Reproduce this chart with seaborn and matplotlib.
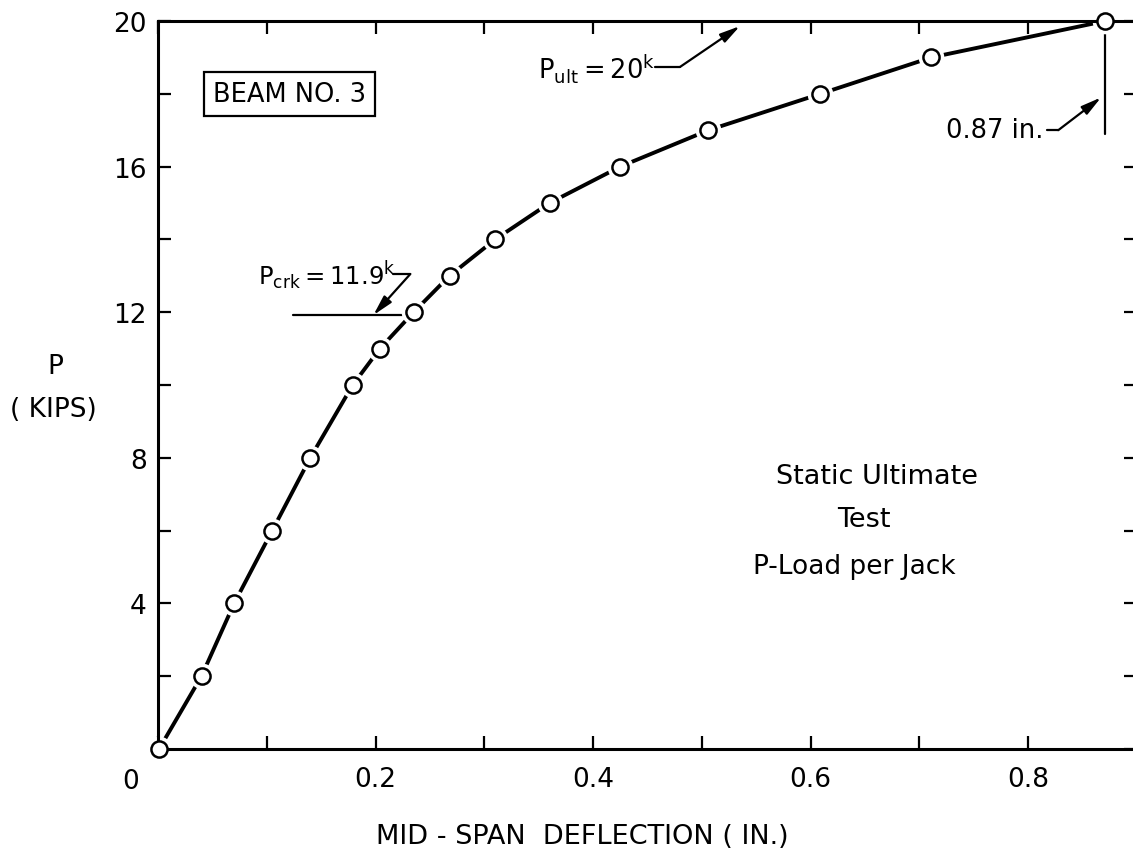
import numpy as np
import pandas as pd
import matplotlib
matplotlib.use("Agg")
import matplotlib.pyplot as plt
import seaborn as sns

# ---- data ----
deflection = [0.001, 0.040, 0.070, 0.105, 0.140, 0.179, 0.204, 0.235, 0.268,
              0.310, 0.360, 0.425, 0.506, 0.609, 0.711, 0.871]
load = [0, 2, 4, 6, 8, 10, 11, 12, 13, 14, 15, 16, 17, 18, 19, 20]

x_ticks = [0.0, 0.1, 0.2, 0.3, 0.4, 0.5, 0.6, 0.7, 0.8]
x_tick_labels = ["", "", "0.2", "", "0.4", "", "0.6", "", "0.8"]
y_ticks = [0, 2, 4, 6, 8, 10, 12, 14, 16, 18, 20]
y_tick_labels = ["", "", "4", "", "8", "", "12", "", "16", "", "20"]

sns.set_theme(style="white")
plt.rcParams["font.family"] = ["DejaVu Sans"]
plt.rcParams["mathtext.default"] = "regular"
plt.rcParams["text.color"] = "black"

fig = plt.figure(figsize=(11.33, 8.62), dpi=100)
ax = fig.add_axes([158 / 1133, 112 / 862, 979 / 1133, 728 / 862])

df = pd.DataFrame({"deflection": deflection, "load": load})
sns.lineplot(data=df, x="deflection", y="load", ax=ax, color="black",
             lw=2.8, sort=False, estimator=None, zorder=2)
# white halo to open a small gap around each marker
sns.scatterplot(data=df, x="deflection", y="load", ax=ax, s=340,
                color="white", linewidth=0, zorder=2.2, clip_on=False)
sns.scatterplot(data=df, x="deflection", y="load", ax=ax, s=135,
                color="white", edgecolor="black", linewidth=1.8,
                zorder=3, clip_on=False)

ax.set_xlim(0, 0.9)
ax.set_ylim(0, 20)
ax.set_xticks(x_ticks)
ax.set_xticklabels(x_tick_labels)
ax.set_yticks(y_ticks)
ax.set_yticklabels(y_tick_labels)
ax.set_xlabel("")
ax.set_ylabel("")
for sp in ax.spines.values():
    sp.set_linewidth(2.2)
    sp.set_color("black")
ax.tick_params(axis="both", which="both", direction="in", length=9.5,
               width=1.6, colors="black", labelsize=19,
               bottom=True, left=True, top=True, right=True,
               labeltop=False, labelright=False)
ax.tick_params(axis="x", pad=12)
ax.tick_params(axis="y", pad=8)

# corner zero and axis titles
fig.text(131 / 1133, 1 - 782 / 862, "0", fontsize=19, ha="center", va="center")
fig.text(582 / 1133, 1 - 837 / 862, "MID - SPAN  DEFLECTION ( IN.)",
         fontsize=19.5, ha="center", va="center")
fig.text(55 / 1133, 1 - 367 / 862, "P", fontsize=19, ha="center", va="center")
fig.text(53 / 1133, 1 - 410 / 862, "( KIPS)", fontsize=19, ha="center", va="center")

# boxed title
ax.text(0.1209, 18.0, "BEAM NO. 3", fontsize=18.5, ha="center", va="center",
        bbox=dict(boxstyle="square,pad=0.35", fc="white", ec="black", lw=1.6))

# test description
fig.text(877 / 1133, 1 - 477 / 862, "Static Ultimate", fontsize=19.5,
         ha="center", va="center")
fig.text(864 / 1133, 1 - 520 / 862, "Test", fontsize=19.5, ha="center", va="center")
fig.text(854 / 1133, 1 - 567 / 862, "P-Load per Jack", fontsize=19,
         ha="center", va="center")

arrow = dict(arrowstyle="-|>,head_length=0.6,head_width=0.15", color="black",
             lw=1.6, shrinkA=0, shrinkB=0, mutation_scale=20)

# cracking load
ax.text(0.092, 12.77, r"$\mathregular{P_{crk}=11.9^{k}}$", fontsize=17.5,
        ha="left", va="baseline")
ax.plot([0.124, 0.230], [11.92, 11.92], color="black", lw=1.6)
ax.plot([0.216, 0.232], [13.05, 13.05], color="black", lw=1.6)
ax.annotate("", xy=(0.198, 11.92), xytext=(0.232, 13.05), arrowprops=arrow)

# ultimate load
ax.text(0.349, 18.46, r"$\mathregular{P_{ult}=20^{k}}$", fontsize=18.5,
        ha="left", va="baseline")
ax.plot([0.457, 0.480], [18.74, 18.74], color="black", lw=1.6)
ax.annotate("", xy=(0.535, 19.86), xytext=(0.480, 18.74), arrowprops=arrow,
            annotation_clip=False)

# ultimate deflection
ax.plot([0.871, 0.871], [19.65, 16.9], color="black", lw=1.6)
ax.text(0.724, 17.0, "0.87 in.", fontsize=18.5, ha="left", va="center")
ax.plot([0.8175, 0.8276], [17.0, 17.0], color="black", lw=1.6)
ax.annotate("", xy=(0.867, 17.9), xytext=(0.8276, 17.0), arrowprops=arrow)

fig.savefig("out.png", dpi=100)
